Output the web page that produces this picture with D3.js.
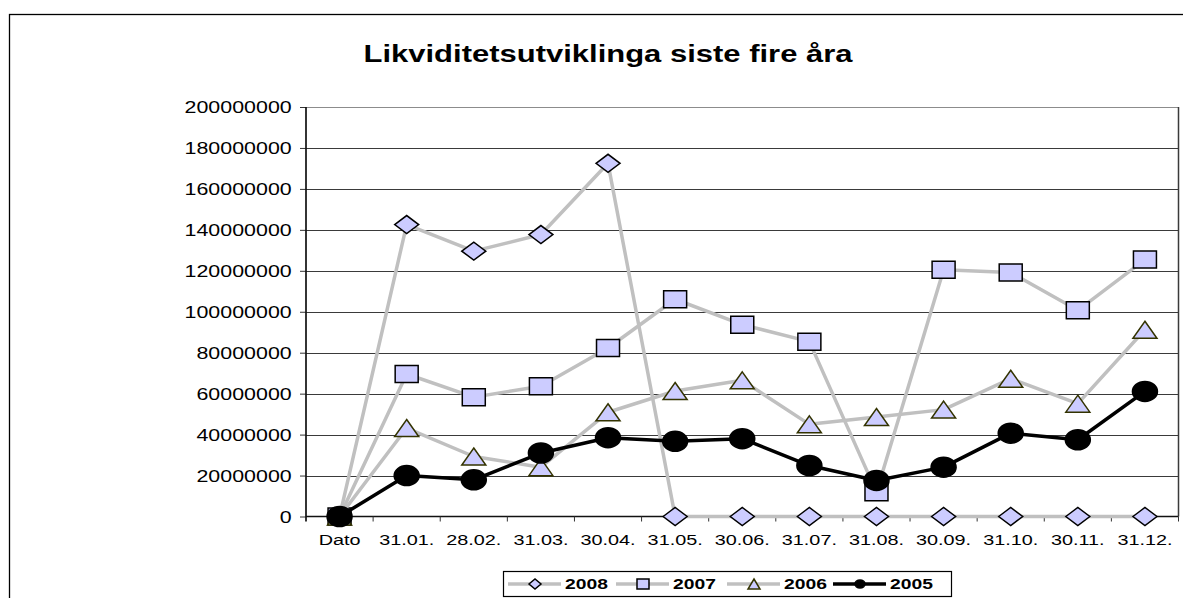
<!DOCTYPE html>
<html>
<head>
<meta charset="utf-8">
<script src="https://cdn.jsdelivr.net/npm/d3@7"></script>
<style>
  body { margin: 0; background: #fff; }
  text { font-family: "Liberation Sans", Arial, sans-serif; fill: #000; }
</style>
</head>
<body>
<script>
// categories and series values
var categories = ["Dato", "31.01.", "28.02.", "31.03.", "30.04.", "31.05.", "30.06.",
                  "31.07.", "31.08.", "30.09.", "31.10.", "30.11.", "31.12."];
var yTicks = [0, 20000000, 40000000, 60000000, 80000000, 100000000,
              120000000, 140000000, 160000000, 180000000, 200000000];
var seriesNames = ["2008", "2007", "2006", "2005"];
var v2008 = [0, 142600000, 129600000, 137700000, 172500000, 0, 0, 0, 0, 0, 0, 0, 0];
var v2007 = [0, 69600000, 58300000, 63600000, 82300000, 106100000, 93700000,
             85400000, 11900000, 120500000, 119200000, 100700000, 125500000];
var v2006 = [0, 43200000, 29300000, 24100000, 50900000, 61300000, 66500000,
             45000000, 48600000, 52200000, 67300000, 55100000, 91200000];
var v2005 = [0, 20000000, 17900000, 31000000, 38500000, 36700000, 38000000,
             24900000, 17600000, 24100000, 40700000, 37500000, 61100000];

var width = 1183, height = 598;
var SX = 1.33; // the original picture is stretched sideways

var svg = d3.select("body").append("svg")
    .attr("width", width)
    .attr("height", height);

// outer chart border
svg.append("rect")
    .attr("x", 9.5).attr("y", 14.5)
    .attr("width", 1200).attr("height", 700)
    .attr("fill", "none")
    .attr("stroke", "#000")
    .attr("stroke-width", 1.3);

var plotLeft = 306, plotRight = 1178.5, plotTop = 107, plotBottom = 516.5;

var x = d3.scaleBand().domain(categories).range([plotLeft, plotRight]);
var y = d3.scaleLinear().domain([0, 200000000]).range([plotBottom, plotTop]);

// title
svg.append("text")
    .attr("transform", "translate(608,62) scale(" + SX + ",1)")
    .attr("text-anchor", "middle")
    .attr("font-size", 23.3)
    .attr("font-weight", "bold")
    .text("Likviditetsutviklinga siste fire åra");

// gridlines
svg.append("g")
    .attr("class", "grid")
    .selectAll("line")
    .data(yTicks.slice(1))
    .enter()
    .append("line")
    .attr("x1", plotLeft).attr("x2", plotRight)
    .attr("y1", function (d) { return Math.round(y(d)) + 0.5; })
    .attr("y2", function (d) { return Math.round(y(d)) + 0.5; })
    .attr("stroke", function (d) { return d === 200000000 ? "#8c8c8c" : "#3a3a3a"; })
    .attr("stroke-width", 1);

// right border of plot area
svg.append("line")
    .attr("x1", plotRight).attr("x2", plotRight)
    .attr("y1", plotTop).attr("y2", plotBottom)
    .attr("stroke", "#3a3a3a")
    .attr("stroke-width", 1.5);

// y axis
var yAxis = svg.append("g")
    .attr("transform", "translate(" + plotLeft + ",0)")
    .call(d3.axisLeft(y).tickValues(yTicks).tickSize(6).tickSizeOuter(0)
        .tickFormat(d3.format("d")));
yAxis.select(".domain").remove();
yAxis.selectAll(".tick line").attr("stroke", "#333");
yAxis.selectAll(".tick text")
    .attr("font-size", 16.1)
    .attr("font-family", "Liberation Sans, Arial, sans-serif")
    .attr("x", -14.3 / SX)
    .attr("dy", "0.36em")
    .attr("transform", "scale(" + SX + ",1)");
svg.append("line")
    .attr("x1", plotLeft).attr("x2", plotLeft)
    .attr("y1", plotTop).attr("y2", plotBottom + 5)
    .attr("stroke", "#111").attr("stroke-width", 1.7);

// x axis
var xAxis = svg.append("g")
    .attr("transform", "translate(0," + plotBottom + ")")
    .call(d3.axisBottom(x).tickSize(0));
xAxis.select(".domain").remove();
xAxis.selectAll(".tick text")
    .attr("font-size", 14.9)
    .attr("font-family", "Liberation Sans, Arial, sans-serif")
    .attr("y", 0)
    .attr("dy", "28.5")
    .attr("transform", "scale(" + SX + ",1)");
svg.append("line")
    .attr("x1", plotLeft).attr("x2", plotRight)
    .attr("y1", plotBottom).attr("y2", plotBottom)
    .attr("stroke", "#111").attr("stroke-width", 1.7);
svg.append("g")
    .selectAll("line")
    .data(categories.slice(1).concat(["end"]))
    .enter()
    .append("line")
    .attr("x1", function (d, i) { return plotLeft + (i + 1) * x.step(); })
    .attr("x2", function (d, i) { return plotLeft + (i + 1) * x.step(); })
    .attr("y1", plotBottom).attr("y2", plotBottom + 5)
    .attr("stroke", "#333");

// marker shapes, w/h are the box sizes
function markerPath(type, w, h) {
    var a = w / 2, b = h / 2;
    if (type === "diamond") return "M" + (-a) + ",0L0," + (-b) + "L" + a + ",0L0," + b + "Z";
    if (type === "square") return "M" + (-a) + "," + (-b) + "H" + a + "V" + b + "H" + (-a) + "Z";
    if (type === "triangle") return "M0," + (-b) + "L" + a + "," + b + "H" + (-a) + "Z";
    // ellipse
    return "M" + (-a) + ",0A" + a + "," + b + " 0 1,0 " + a + ",0A" + a + "," + b + " 0 1,0 " + (-a) + ",0Z";
}

var series = [
    { name: "2008", values: v2008, color: "#c0c0c0", marker: "diamond", w: 24, h: 18, fill: "#ccccff", stroke: "#000" },
    { name: "2007", values: v2007, color: "#c0c0c0", marker: "square", w: 23, h: 17, fill: "#ccccff", stroke: "#000" },
    { name: "2006", values: v2006, color: "#c0c0c0", marker: "triangle", w: 24, h: 17, fill: "#ccccff", stroke: "#333300" },
    { name: "2005", values: v2005, color: "#000", marker: "circle", w: 25, h: 20, fill: "#000", stroke: "#000" }
];

var line = d3.line()
    .x(function (d, i) { return x(categories[i]) + x.bandwidth() / 2; })
    .y(function (d) { return y(d); });

series.forEach(function (s) {
    var g = svg.append("g").attr("class", "series s" + s.name);
    g.append("path")
        .datum(s.values)
        .attr("d", line)
        .attr("fill", "none")
        .attr("stroke", s.color)
        .attr("stroke-width", 3.5)
        .attr("stroke-linejoin", "round");
    g.selectAll(".marker")
        .data(s.values)
        .enter()
        .append("path")
        .attr("class", "marker")
        .attr("transform", function (d, i) {
            return "translate(" + (x(categories[i]) + x.bandwidth() / 2) + "," + y(d) + ")";
        })
        .attr("d", markerPath(s.marker, s.w, s.h))
        .attr("fill", s.fill)
        .attr("stroke", s.stroke)
        .attr("stroke-width", 1.5);
});

// legend
var legend = svg.append("g").attr("class", "legend");
legend.append("rect")
    .attr("x", 503.5).attr("y", 571.5)
    .attr("width", 448).attr("height", 25)
    .attr("fill", "#fff")
    .attr("stroke", "#000")
    .attr("stroke-width", 1.2);

var legendX = [508, 616, 727, 833];
series.forEach(function (s, i) {
    var lx = legendX[i], ly = 584;
    legend.append("line")
        .attr("x1", lx).attr("x2", lx + 53)
        .attr("y1", ly).attr("y2", ly)
        .attr("stroke", s.color)
        .attr("stroke-width", 3.5);
    legend.append("path")
        .attr("transform", "translate(" + (lx + 27) + "," + ly + ")")
        .attr("d", markerPath(s.marker, s.marker === "circle" ? 10 : 12, s.marker === "circle" ? 8 : 10))
        .attr("fill", s.fill)
        .attr("stroke", s.stroke)
        .attr("stroke-width", 1.5);
    legend.append("text")
        .attr("transform", "translate(" + (lx + 57) + "," + (ly + 5) + ") scale(" + SX + ",1)")
        .attr("font-size", 14.5)
        .attr("font-weight", "bold")
        .text(s.name);
});
</script>
</body>
</html>
